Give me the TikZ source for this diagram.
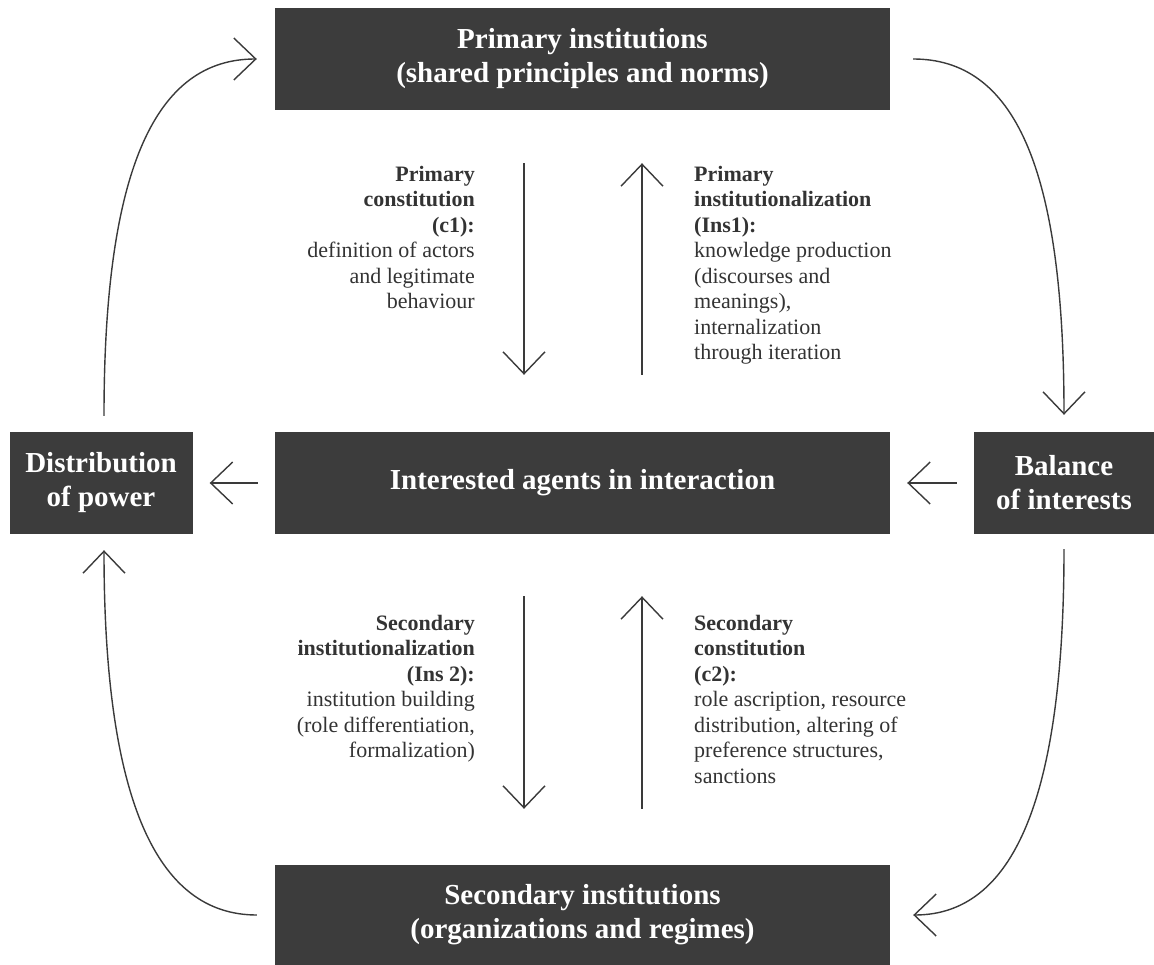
\documentclass[tikz,border=0pt]{standalone}
\usepackage{fontspec}
\setmainfont{Liberation Serif}
\usetikzlibrary{arrows.meta}
\definecolor{boxgray}{HTML}{3C3C3C}
\definecolor{linegray}{HTML}{3A3A3A}
\definecolor{textgray}{HTML}{333333}

\begin{document}
\begin{tikzpicture}[x=1pt, y=1pt,
	box/.style={fill=boxgray, text=white, font=\bfseries\fontsize{29}{34}\selectfont, align=center, inner sep=0pt, minimum height=102pt},
	arrow/.style={draw=linegray, line width=1.4pt, -{Straight Barb[length=22pt, width=42pt]}},
	desc/.style={text=textgray, font=\fontsize{22}{25.5}\selectfont, inner sep=0pt}
]
\useasboundingbox (0,0) rectangle (1154,-965);

% boxes
\node[box, minimum width=615pt] (primary) at (582.5,-59) {Primary institutions\\(shared principles and norms)};
\node[box, minimum width=615pt] (agents) at (582.5,-483) {Interested agents in interaction};
\node[box, minimum width=183pt] (dist) at (101,-483) {Distribution\\of power};
\node[box, minimum width=180pt] (balance) at (1064,-483) {Balance\\of interests};
\node[box, minimum width=615pt, minimum height=100pt] (secondary) at (582.5,-915) {Secondary institutions\\(organizations and regimes)};

% labels
\node[desc, anchor=north east, align=right] (c1) at (475,-166) {\textbf{Primary}\\\textbf{constitution}\\\textbf{(c1):}\\definition of actors\\and legitimate\\behaviour};
\node[desc, anchor=north west, align=left] (ins1) at (694,-166) {\textbf{Primary}\\\textbf{institutionalization}\\\textbf{(Ins1):}\\knowledge production\\(discourses and\\meanings),\\internalization\\through iteration};
\node[desc, anchor=north east, align=right] (ins2) at (475,-615) {\textbf{Secondary}\\\textbf{institutionalization}\\\textbf{(Ins 2):}\\institution building\\(role differentiation,\\formalization)};
\node[desc, anchor=north west, align=left] (c2) at (694,-615) {\textbf{Secondary}\\\textbf{constitution}\\\textbf{(c2):}\\role ascription, resource\\distribution, altering of\\preference structures,\\sanctions};

% vertical arrows
\draw[arrow, shorten <=53pt, shorten >=57pt] ([xshift=-58.5pt]primary.south) -- ([xshift=-58.5pt]agents.north);
\draw[arrow, shorten <=57pt, shorten >=53pt] ([xshift=59.5pt]agents.north) -- ([xshift=59.5pt]primary.south);
\draw[arrow, shorten <=62pt, shorten >=56pt] ([xshift=-58.5pt]agents.south) -- ([xshift=-58.5pt]secondary.north);
\draw[arrow, shorten <=56pt, shorten >=62pt] ([xshift=59.5pt]secondary.north) -- ([xshift=59.5pt]agents.south);

% horizontal arrows
\draw[arrow, shorten <=17pt, shorten >=17pt] (agents.west) -- (dist.east);
\draw[arrow, shorten <=17pt, shorten >=17pt] (balance.west) -- (agents.east);

% outer cycle
\draw[arrow] ([xshift=3pt, yshift=16pt]dist.north) .. controls +(0,250) and +(-100,0) .. ([xshift=-18pt]primary.west);
\draw[arrow] ([xshift=23pt]primary.east) .. controls +(100,0) and +(0,250) .. ([yshift=17pt]balance.north);
\draw[arrow] ([yshift=-15pt]balance.south) .. controls +(0,-250) and +(100,0) .. ([xshift=23pt]secondary.east);
\draw[arrow] ([xshift=-18pt]secondary.west) .. controls +(-100,0) and +(0,-250) .. ([xshift=3pt, yshift=-16pt]dist.south);
\end{tikzpicture}
\end{document}
